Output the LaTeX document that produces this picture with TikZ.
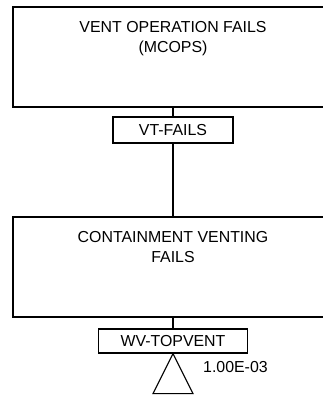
\documentclass[tikz,border=0pt]{standalone}
\usepackage{fontspec}
\setmainfont{Liberation Sans}
\usetikzlibrary{positioning}
\tikzset{
    event/.style={draw, line width=1.6pt, minimum width=320pt,
                  minimum height=100pt, inner sep=0pt},
    eventtext/.style={anchor=north, align=center, inner sep=0pt, yshift=-14.6pt},
    tag/.style={draw, line width=1.1pt, inner sep=0pt},
    link/.style={line width=1.1pt},
    house/.style={line width=1.1pt, line join=miter},
}

\begin{document}
\begin{tikzpicture}[x=1pt, y=-1pt, font={\fontsize{15.9}{20}\selectfont}]
    \clip (0,0) rectangle (323,396);

    \node[event, label={[eventtext, name=venttext]north:VENT OPERATION FAILS\\(MCOPS)}]
        (vent) at (173,57) {};
    \node[tag, minimum width=120pt, minimum height=26pt] (vtfails) at (173,130) {VT-FAILS};

    \node[event, label={[eventtext, name=ventingtext]north:CONTAINMENT VENTING\\FAILS}]
        (venting) at (173,267) {};
    \node[tag, minimum width=149pt, minimum height=24pt] (topvent) at (173,341) {WV-TOPVENT};
    \node[anchor=west, inner sep=0pt] (prob) at (203,367) {1.00E-03};

    \draw[link] (vent.south) -- (vtfails.north);
    \draw[link] (vtfails.south) -- (venting.north);
    \draw[link] (venting.south) -- (topvent.north);

    % basic event
    \draw[house] (topvent.south) -- ++(-20,40) -- ++(40,0) -- cycle;
\end{tikzpicture}
\end{document}
